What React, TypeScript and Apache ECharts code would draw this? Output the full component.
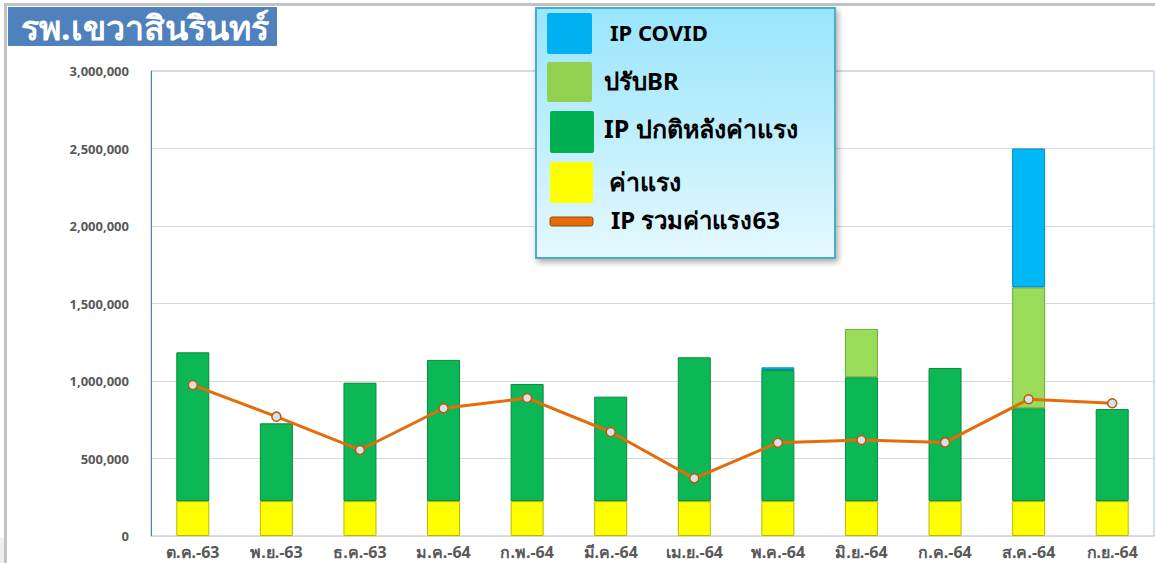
import React, { useEffect, useRef } from "react";
import * as echarts from "echarts";

const categories = ["ต.ค.-63", "พ.ย.-63", "ธ.ค.-63", "ม.ค.-64", "ก.พ.-64", "มี.ค.-64", "เม.ย.-64", "พ.ค.-64", "มิ.ย.-64", "ก.ค.-64", "ส.ค.-64", "ก.ย.-64"];
const wage = [225000, 225000, 225000, 225000, 225000, 225000, 225000, 225000, 225000, 225000, 225000, 225000];
const ipNormal = [960000, 502000, 764000, 911000, 756000, 674000, 928000, 846000, 799000, 859000, 599000, 594000];
const adjustBR = [null, null, null, null, null, null, null, null, 312000, null, 780000, null];
const ipCovid = [null, null, null, null, null, null, null, 17000, null, null, 896000, null];
const ipTotal63 = [974000, 770000, 555000, 824000, 890000, 671000, 372000, 602000, 619000, 604000, 882000, 856000];

const FONT = "'Noto Sans', 'DejaVu Sans', sans-serif";

export default function App() {
  const ref = useRef<HTMLDivElement>(null);
  useEffect(() => {
    if (!ref.current) return;
    const chart = echarts.init(ref.current, undefined, { renderer: "svg" });
    const barBase = (name: string, data: any[], color: string, border: string) => ({
      name,
      type: "bar",
      stack: "total",
      data,
      barWidth: 33,
      itemStyle: { color, borderColor: border, borderWidth: 1 },
    });
    const legendText = (text: string, x: number, y: number, size: number) => ({
      type: "text",
      x,
      y,
      style: { text, fill: "#000", font: `bold ${size}px ${FONT}`, verticalAlign: "middle" },
      z: 110,
    });
    chart.setOption({
      animation: false,
      backgroundColor: "#ffffff",
      textStyle: { fontFamily: FONT },
      grid: { left: 151, right: 1, top: 71, bottom: 27, show: true, borderColor: "#A7BFDE", borderWidth: 1 },
      xAxis: {
        type: "category",
        data: categories,
        axisLine: { show: true, lineStyle: { color: "#D9D9D9" } },
        axisTick: { show: false },
        axisLabel: { color: "#595959", fontWeight: "bold", fontSize: 16, margin: 8, fontFamily: FONT },
      },
      yAxis: {
        type: "value",
        min: 0,
        max: 3000000,
        interval: 500000,
        axisLine: { show: true, lineStyle: { color: "#4F81BD" } },
        axisTick: { show: false },
        splitLine: { lineStyle: { color: "#D9D9D9" } },
        axisLabel: {
          color: "#595959",
          fontWeight: "bold",
          fontSize: 13,
          margin: 22,
          fontFamily: FONT,
          formatter: (v: number) => v.toLocaleString("en-US"),
        },
      },
      series: [
        barBase("ค่าแรง", wage, "#FFFF00", "#B8B800"),
        barBase("IP ปกติหลังค่าแรง", ipNormal, "#0BB855", "#078A3E"),
        barBase("ปรับBR", adjustBR, "#9BDB5A", "#72A83C"),
        barBase("IP COVID", ipCovid, "#00B8F5", "#0089B8"),
        {
          name: "IP รวมค่าแรง63",
          type: "line",
          data: ipTotal63,
          z: 5,
          symbol: "circle",
          symbolSize: 9,
          lineStyle: { color: "#E46C0A", width: 3 },
          itemStyle: { color: "#D8E2EC", borderColor: "#C0580A", borderWidth: 1.5 },
        },
      ],
      graphic: [
        { type: "rect", shape: { x: 4, y: 3, width: 3, height: 560 }, style: { fill: "#C3C3C3" }, z: 100 },
        { type: "rect", shape: { x: 4, y: 3, width: 1151, height: 3 }, style: { fill: "#C3C3C3" }, z: 100 },
        { type: "rect", shape: { x: 0, y: 538, width: 4, height: 25 }, style: { fill: "#EEEEEE" }, z: 100 },
        { type: "rect", shape: { x: 8, y: 7, width: 269, height: 39 }, style: { fill: "#4F81BD" }, z: 100 },
        {
          type: "text",
          x: 21,
          y: 27,
          style: { text: "รพ.เขวาสินรินทร์", fill: "#fff", font: `bold 34px ${FONT}`, verticalAlign: "middle" },
          z: 101,
        },
        {
          type: "rect",
          shape: { x: 536, y: 8, width: 299, height: 250 },
          style: {
            fill: new echarts.graphic.LinearGradient(0, 0, 0, 1, [
              { offset: 0, color: "#98E5FB" },
              { offset: 1, color: "#E5F8FE" },
            ]),
            stroke: "#4BACC6",
            lineWidth: 2,
            shadowBlur: 6,
            shadowOffsetX: 2,
            shadowOffsetY: 3,
            shadowColor: "rgba(0,0,0,0.35)",
          },
          z: 105,
        },
        { type: "rect", shape: { x: 547, y: 13, width: 45, height: 41, r: 2 }, style: { fill: "#00B0F0" }, z: 110 },
        { type: "rect", shape: { x: 547, y: 62, width: 45, height: 40, r: 2 }, style: { fill: "#92D050" }, z: 110 },
        { type: "rect", shape: { x: 550, y: 111, width: 44, height: 42, r: 2 }, style: { fill: "#00B050" }, z: 110 },
        { type: "rect", shape: { x: 550, y: 162, width: 43, height: 41, r: 2 }, style: { fill: "#FFFF00" }, z: 110 },
        { type: "rect", shape: { x: 550, y: 217, width: 43, height: 9, r: 2 }, style: { fill: "#E46C0A", stroke: "#974806", lineWidth: 1 }, z: 110 },
        legendText("IP COVID", 610, 32, 22),
        legendText("ปรับBR", 604, 80, 24),
        legendText("IP ปกติหลังค่าแรง", 604, 128, 25),
        legendText("ค่าแรง", 609, 181, 25),
        legendText("IP รวมค่าแรง63", 611, 219, 24),
      ],
    });
    return () => chart.dispose();
  }, []);
  return <div ref={ref} style={{ position: "fixed", left: 0, top: 0, width: 1155, height: 563 }} />;
}
